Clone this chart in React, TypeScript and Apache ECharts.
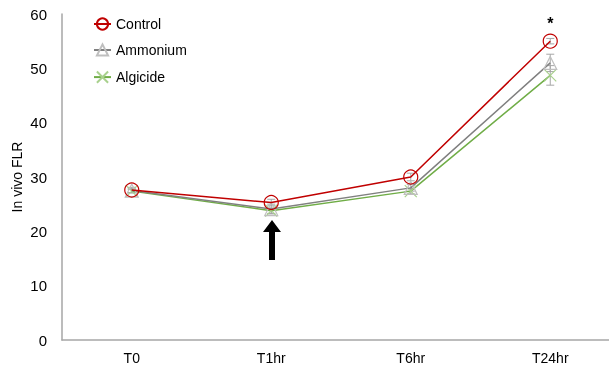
import React, { useEffect, useRef } from "react";
import * as echarts from "echarts";

const categories = ["T0", "T1hr", "T6hr", "T24hr"];
const controlValues = [27.6, 25.3, 30.0, 55.0];
const ammoniumValues = [27.5, 24.1, 28.0, 51.0];
const algicideValues = [27.4, 23.8, 27.4, 48.7];
const controlErr = [0.5, 0.6, 0.7, 0.5];
const ammoniumErr = [0.4, 0.9, 0.6, 1.6];
const algicideErr = [0.3, 0.5, 0.5, 1.8];
const yTicks = { min: 0, max: 60, interval: 10 };

const RED = "#c00000";
const GRAY = "#808080";
const GREEN = "#70ad47";

function errorSeries(name: string, values: number[], errs: number[], color: string) {
  return {
    type: "custom",
    name: name + "_err",
    silent: true,
    z: 1,
    data: values.map((v, i) => [i, v - errs[i], v + errs[i]]),
    renderItem: (params: any, api: any) => {
      const x = api.value(0);
      const lo = api.coord([x, api.value(1)]);
      const hi = api.coord([x, api.value(2)]);
      const w = 4;
      const style = { stroke: color, lineWidth: 1 };
      return {
        type: "group",
        children: [
          { type: "line", shape: { x1: lo[0], y1: lo[1], x2: hi[0], y2: hi[1] }, style },
          { type: "line", shape: { x1: lo[0] - w, y1: lo[1], x2: lo[0] + w, y2: lo[1] }, style },
          { type: "line", shape: { x1: hi[0] - w, y1: hi[1], x2: hi[0] + w, y2: hi[1] }, style },
        ],
      };
    },
  };
}

export default function App() {
  const ref = useRef<HTMLDivElement>(null);
  useEffect(() => {
    const chart = echarts.init(ref.current!, null, { renderer: "svg" });
    chart.setOption({
      animation: false,
      textStyle: { fontFamily: "Liberation Sans, Arial, sans-serif" },
      grid: { left: 62, width: 558, top: 14, bottom: 27, outerBoundsMode: "none", containLabel: false },
      legend: {
        orient: "vertical",
        left: 88,
        top: 12,
        itemGap: 12,
        itemWidth: 17,
        itemHeight: 14,
        textStyle: { fontSize: 14, color: "#000", fontFamily: "Liberation Sans, Arial, sans-serif" },
        data: ["Control", "Ammonium", "Algicide"],
      },
      xAxis: {
        type: "category",
        data: categories,
        boundaryGap: true,
        axisLine: { lineStyle: { color: "#a6a6a6", width: 1.5 } },
        axisTick: { show: false },
        axisLabel: { color: "#000", fontSize: 14, margin: 11 },
      },
      yAxis: {
        type: "value",
        min: yTicks.min,
        max: yTicks.max,
        interval: yTicks.interval,
        name: "In vivo FLR",
        nameLocation: "middle",
        nameGap: 38,
        nameMoveOverlap: false,
        nameTextStyle: { color: "#000", fontSize: 14 },
        axisLine: { show: true, lineStyle: { color: "#a6a6a6", width: 1.5 } },
        axisTick: { show: false },
        splitLine: { show: false },
        axisLabel: { color: "#000", fontSize: 15, margin: 15 },
      },
      series: [
        errorSeries("Ammonium", ammoniumValues, ammoniumErr, "#a6a6a6"),
        errorSeries("Algicide", algicideValues, algicideErr, "#a6a6a6"),
        errorSeries("Control", controlValues, controlErr, "#a6a6a6"),
        {
          name: "Algicide",
          type: "line",
          data: algicideValues,
          symbol: "path://M0,0L10,10M10,0L0,10",
          symbolSize: 12,
          lineStyle: { color: GREEN, width: 1.5 },
          itemStyle: { color: "none", borderColor: "#a9d18e", borderWidth: 1.2 },
          z: 2,
        },
        {
          name: "Ammonium",
          type: "line",
          data: ammoniumValues,
          symbol: "triangle",
          symbolSize: 13,
          lineStyle: { color: GRAY, width: 1.5 },
          itemStyle: { color: "rgba(255,255,255,0)", borderColor: "#bfbfbf", borderWidth: 1.2 },
          z: 3,
        },
        {
          name: "Control",
          type: "line",
          data: controlValues,
          symbol: "circle",
          symbolSize: 14,
          lineStyle: { color: RED, width: 1.5 },
          itemStyle: { color: "rgba(255,255,255,0)", borderColor: RED, borderWidth: 1.2 },
          z: 4,
          markPoint: {
            symbol: "circle",
            symbolSize: 1,
            itemStyle: { color: "rgba(0,0,0,0)" },
            label: { show: true, formatter: "*", color: "#000", fontSize: 16, fontWeight: "bold", position: "inside" },
            data: [{ coord: ["T24hr", 58.3] }],
          },
        },
      ],
      graphic: [
        {
          type: "polygon",
          shape: {
            points: [
              [269, 260], [275, 260], [275, 232], [281, 232], [272, 220], [263, 232], [269, 232],
            ],
          },
          style: { fill: "#000" },
        },
      ],
    });
    return () => chart.dispose();
  }, []);
  return <div ref={ref} style={{ position: "fixed", left: 0, top: 0, width: 609, height: 367 }} />;
}
